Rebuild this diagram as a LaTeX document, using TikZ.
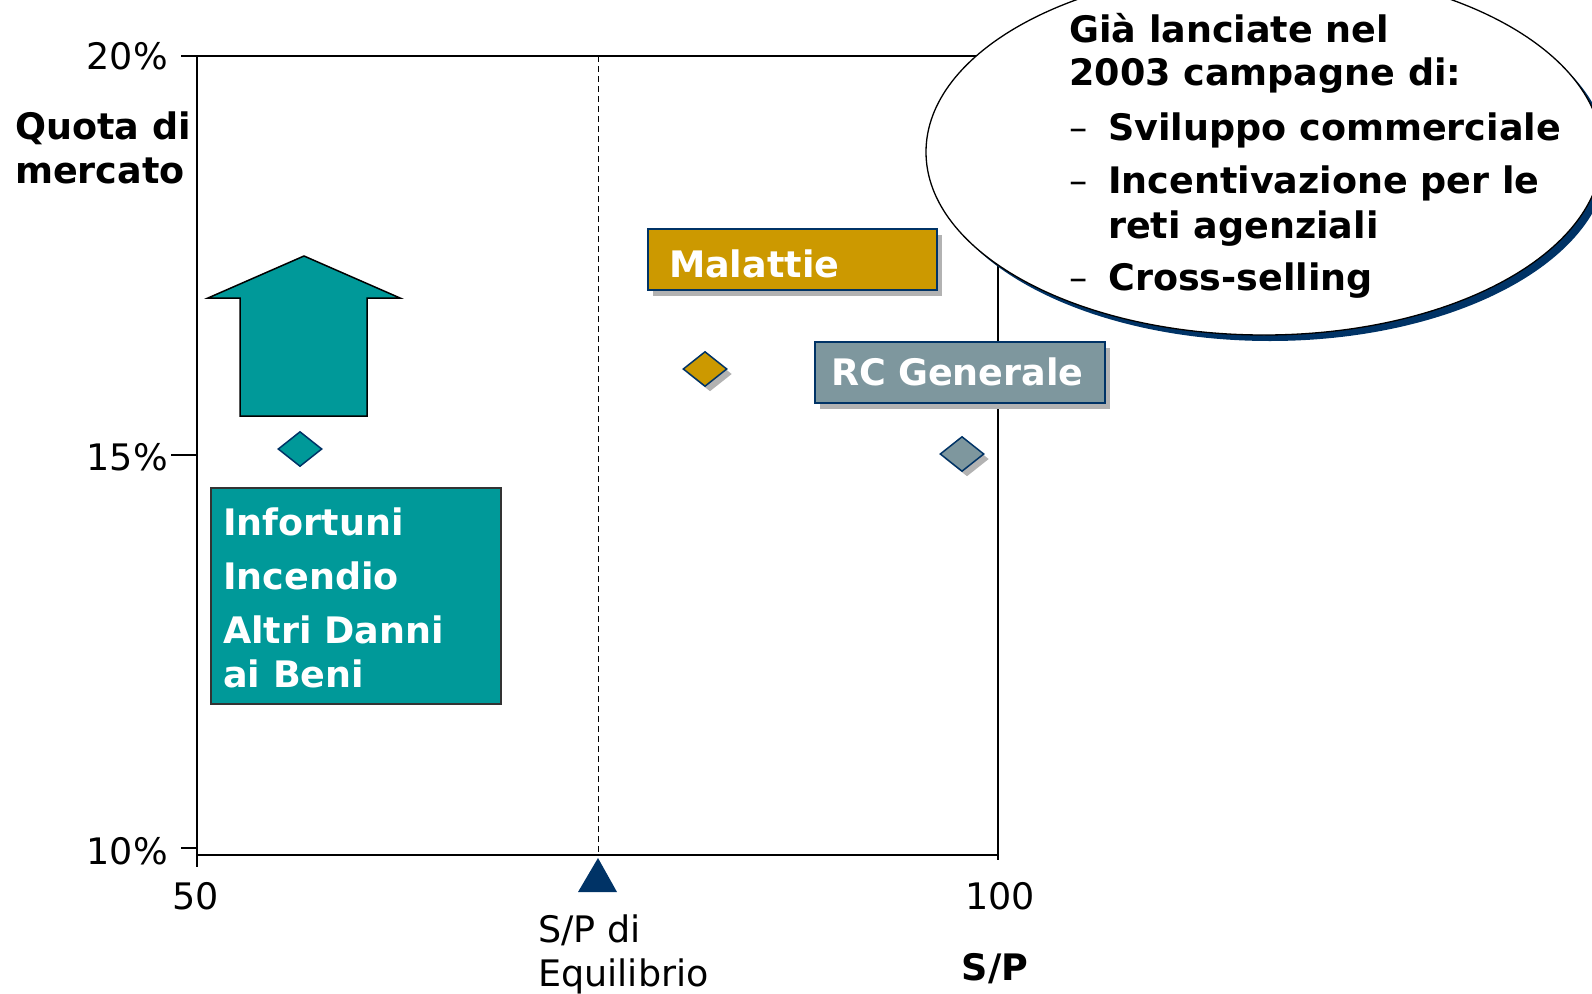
\documentclass[tikz,border=0pt]{standalone}
\usepackage{fontspec}
\setmainfont{DejaVu Sans}
\usetikzlibrary{shapes.geometric,shadows}

\definecolor{quotateal}{RGB}{0,153,153}
\definecolor{malgold}{RGB}{204,153,0}
\definecolor{rcgray}{RGB}{126,151,158}
\definecolor{navyblue}{RGB}{0,51,102}
\definecolor{shadowgray}{RGB}{178,178,178}

\begin{document}
\begin{tikzpicture}[x=1pt,y=-1pt,
  every node/.style={inner sep=0pt,font=\fontsize{36.5}{44}\selectfont},
  lbl/.style={anchor=base west,font=\fontsize{36.5}{44}\selectfont\bfseries},
  num/.style={anchor=base east},
  axis/.style={line width=1.8pt},
  area/.style={rectangle,draw=navyblue,line width=1.6pt,text=white,align=left,
    text depth=0pt,font=\fontsize{36.5}{44}\selectfont\bfseries},
  grayshadow/.style={drop shadow={shadow xshift=5pt,shadow yshift=-6pt,fill=shadowgray,opacity=1}},
  rombo/.style={diamond,draw=navyblue,line width=1.5pt,minimum width=44pt,minimum height=35pt}]

    \useasboundingbox (0,0) rectangle (1592,993);

    % The axes
    \draw[axis] (181,56) -- (998,56) -- (998,860);
    \draw[axis] (197,56) -- (197,867);
    \draw[axis] (197,855) -- (998,855);
    \draw[axis] (171,455) -- (197,455);
    \draw[axis] (181,848) -- (197,848);
    \draw[line width=1pt,dash pattern=on 6pt off 4pt] (598,56) -- (598,855);
    \fill[navyblue] (598,858) -- (617,892) -- (578,892) -- cycle;

    \node[num] at (168,69) (q20) {20\%};
    \node[num] at (168,470) (q15) {15\%};
    \node[num] at (168,864) (q10) {10\%};
    \node[anchor=base] at (196,909) (sp50) {50};
    \node[anchor=base] at (1000,909) (sp100) {100};
    \node[anchor=base west] at (538,942) (eq1) {S/P di};
    \node[anchor=base west] at (538,986) (eq2) {Equilibrio};
    \node[lbl,anchor=base] at (995,980) (spaxis) {S/P};
    \node[lbl] at (15,139) (quota1) {Quota di};
    \node[lbl] at (15,183) (quota2) {mercato};

    % Growth arrow
    \filldraw[fill=quotateal,draw=black,line width=1.5pt]
      (240,416) -- (240,298) -- (208,298) -- (304,256) -- (400,298)
      -- (367,298) -- (367,416) -- cycle;

    % Lines of business
    \node[rombo,fill=quotateal] at (300,449) (infd) {};
    \node[area,fill=quotateal,draw=black!80,minimum width=290pt,minimum height=216pt]
      at (356,596) (infbox) {};
    \node[lbl,text=white] at (223,535) (inf1) {Infortuni};
    \node[lbl,text=white] at (223,589) (inf2) {Incendio};
    \node[lbl,text=white] at (223,643) (inf3) {Altri Danni};
    \node[lbl,text=white] at (223,687) (inf4) {ai Beni};

    \node[area,grayshadow,fill=malgold,minimum width=289pt,minimum height=61pt,
      text width=247pt,text height=35pt] at (792.5,259.5) (malbox) {Malattie};
    \node[rombo,fill=malgold,drop shadow={shadow xshift=5pt,shadow yshift=-5pt,fill=shadowgray,opacity=1}]
      at (705,369) (mald) {};

    \node[area,grayshadow,fill=rcgray,minimum width=290pt,minimum height=61pt,
      text width=258pt,text height=25pt] at (960,372.5) (rcbox) {RC Generale};
    \node[rombo,fill=rcgray,drop shadow={shadow xshift=5pt,shadow yshift=-5pt,fill=shadowgray,opacity=1}]
      at (962,454) (rcd) {};

    % Campaign bubble
    \node[ellipse,draw=black,line width=1.3pt,fill=white,minimum width=676pt,minimum height=366pt,
      drop shadow={shadow xshift=6pt,shadow yshift=-6pt,fill=navyblue,opacity=1}]
      at (1264,152) (bubble) {};
    \node[lbl] at (1069,42) (camp1) {Già lanciate nel};
    \node[lbl] at (1069,85) (camp2) {2003 campagne di:};
    \node[anchor=base west] at (1069,140) (dash1) {–};
    \node[lbl] at (1108,140) (camp3) {Sviluppo commerciale};
    \node[anchor=base west] at (1069,193) (dash2) {–};
    \node[lbl] at (1108,193) (camp4) {Incentivazione per le};
    \node[lbl] at (1108,238) (camp5) {reti agenziali};
    \node[anchor=base west] at (1069,290) (dash3) {–};
    \node[lbl] at (1108,290) (camp6) {Cross-selling};

\end{tikzpicture}
\end{document}
